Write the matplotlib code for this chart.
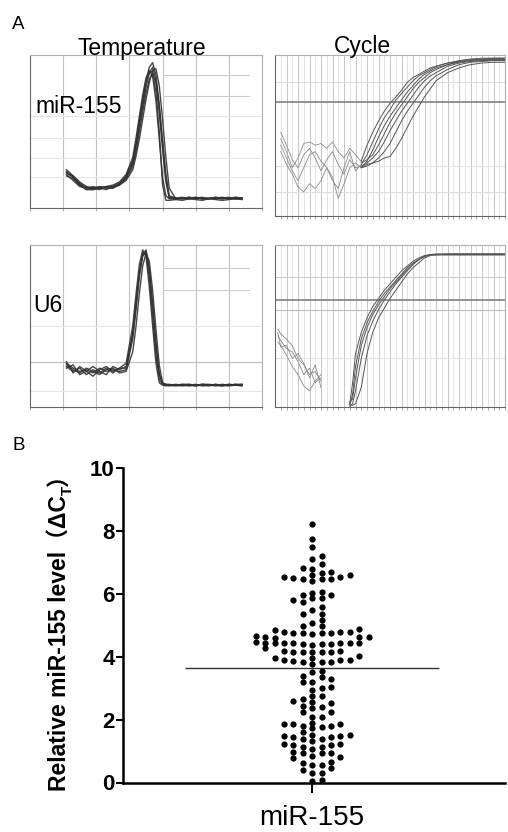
import numpy as np
import matplotlib
matplotlib.use("Agg")
from matplotlib import pyplot as plt
from matplotlib.transforms import IdentityTransform

W, H = 508, 832

plt.rcParams["font.family"] = ["Liberation Sans", "Noto Sans CJK SC", "DejaVu Sans"]

# ---- panel A: melting curves (normalised -dF/dT vs temperature) ----
MELT_T = [65.5, 66.5, 67.5, 68.5, 69.5, 70.5, 71.5, 72.5, 73.5, 74.5, 75.5,
          76.0, 76.5, 77.0, 77.5, 78.0, 78.5, 79.0, 79.5, 80.0, 80.5, 81.0,
          82, 83, 84, 85, 86, 87, 88, 89, 90, 91, 92]

MIR_MELT = [
    [0.23, 0.20, 0.15, 0.13, 0.13, 0.14, 0.13, 0.14, 0.16, 0.20, 0.29, 0.40, 0.53, 0.66, 0.79, 0.88, 0.92,
     0.84, 0.66, 0.42, 0.20, 0.07, 0.065, 0.07, 0.06, 0.065, 0.07, 0.06, 0.065, 0.07, 0.06, 0.065, 0.065],
    [0.25, 0.21, 0.16, 0.14, 0.12, 0.13, 0.14, 0.15, 0.17, 0.22, 0.33, 0.46, 0.60, 0.74, 0.85, 0.90, 0.86,
     0.70, 0.45, 0.20, 0.08, 0.06, 0.06, 0.065, 0.06, 0.07, 0.06, 0.065, 0.06, 0.065, 0.07, 0.06, 0.065],
    [0.21, 0.19, 0.15, 0.12, 0.13, 0.12, 0.14, 0.13, 0.15, 0.18, 0.25, 0.34, 0.45, 0.58, 0.71, 0.82, 0.90,
     0.91, 0.80, 0.58, 0.33, 0.13, 0.06, 0.065, 0.07, 0.06, 0.065, 0.06, 0.07, 0.065, 0.06, 0.07, 0.065],
    [0.22, 0.18, 0.14, 0.13, 0.14, 0.13, 0.12, 0.14, 0.15, 0.19, 0.27, 0.37, 0.50, 0.63, 0.75, 0.84, 0.88,
     0.82, 0.62, 0.38, 0.17, 0.065, 0.06, 0.06, 0.065, 0.07, 0.06, 0.06, 0.065, 0.06, 0.065, 0.06, 0.06],
    [0.24, 0.20, 0.16, 0.12, 0.12, 0.14, 0.13, 0.13, 0.16, 0.21, 0.31, 0.43, 0.57, 0.70, 0.82, 0.89, 0.89,
     0.76, 0.50, 0.15, 0.05, 0.05, 0.055, 0.05, 0.06, 0.055, 0.05, 0.06, 0.055, 0.05, 0.055, 0.06, 0.055],
    [0.23, 0.21, 0.17, 0.14, 0.13, 0.13, 0.14, 0.14, 0.16, 0.20, 0.30, 0.42, 0.56, 0.70, 0.83, 0.92, 0.95,
     0.87, 0.68, 0.44, 0.22, 0.08, 0.065, 0.06, 0.07, 0.065, 0.06, 0.065, 0.07, 0.06, 0.065, 0.07, 0.06],
]

U6_MELT = [
    [0.27, 0.24, 0.22, 0.23, 0.21, 0.24, 0.22, 0.23, 0.22, 0.23, 0.42, 0.60, 0.80, 0.93, 0.96, 0.84, 0.62,
     0.38, 0.20, 0.14, 0.135, 0.135, 0.14, 0.135, 0.13, 0.135, 0.14, 0.135, 0.13, 0.135, 0.14, 0.135, 0.14],
    [0.25, 0.22, 0.24, 0.20, 0.23, 0.21, 0.24, 0.21, 0.24, 0.27, 0.50, 0.70, 0.88, 0.97, 0.93, 0.74, 0.50,
     0.27, 0.15, 0.135, 0.13, 0.135, 0.13, 0.135, 0.14, 0.13, 0.135, 0.13, 0.14, 0.135, 0.13, 0.135, 0.13],
    [0.26, 0.23, 0.21, 0.24, 0.22, 0.20, 0.23, 0.24, 0.21, 0.22, 0.34, 0.50, 0.70, 0.87, 0.95, 0.90, 0.72,
     0.48, 0.26, 0.15, 0.14, 0.135, 0.135, 0.14, 0.135, 0.13, 0.14, 0.135, 0.135, 0.13, 0.14, 0.135, 0.135],
    [0.24, 0.26, 0.20, 0.22, 0.25, 0.22, 0.20, 0.25, 0.23, 0.25, 0.46, 0.65, 0.84, 0.95, 0.95, 0.80, 0.56,
     0.32, 0.17, 0.14, 0.135, 0.13, 0.135, 0.13, 0.135, 0.14, 0.13, 0.135, 0.14, 0.13, 0.135, 0.14, 0.135],
    [0.28, 0.21, 0.25, 0.22, 0.19, 0.23, 0.25, 0.22, 0.24, 0.24, 0.44, 0.63, 0.83, 0.94, 0.97, 0.86, 0.64,
     0.40, 0.21, 0.145, 0.14, 0.14, 0.135, 0.14, 0.14, 0.135, 0.14, 0.14, 0.135, 0.14, 0.135, 0.14, 0.14],
]

# ---- panel A: amplification curves (normalised fluorescence vs cycle) ----
AMP_C = [15, 16, 17, 18, 19, 20, 21, 22, 23, 24, 25, 26, 27, 28, 30, 32, 34, 36, 38, 40]
MIR_AMP = [
    [0.34, 0.44, 0.52, 0.59, 0.65, 0.70, 0.74, 0.78, 0.83, 0.86, 0.88, 0.90, 0.92, 0.93, 0.95, 0.965, 0.975, 0.98, 0.98, 0.98],
    [0.32, 0.38, 0.46, 0.54, 0.61, 0.66, 0.72, 0.76, 0.80, 0.84, 0.87, 0.89, 0.91, 0.93, 0.95, 0.96, 0.97, 0.975, 0.98, 0.98],
    [0.30, 0.34, 0.41, 0.49, 0.56, 0.62, 0.67, 0.72, 0.77, 0.81, 0.85, 0.88, 0.90, 0.92, 0.94, 0.96, 0.97, 0.97, 0.975, 0.975],
    [0.33, 0.35, 0.38, 0.44, 0.51, 0.58, 0.64, 0.69, 0.74, 0.79, 0.83, 0.86, 0.89, 0.91, 0.94, 0.955, 0.965, 0.97, 0.97, 0.97],
    [0.31, 0.33, 0.36, 0.40, 0.46, 0.53, 0.59, 0.65, 0.70, 0.75, 0.80, 0.84, 0.87, 0.89, 0.93, 0.95, 0.96, 0.965, 0.97, 0.97],
    [0.30, 0.32, 0.33, 0.36, 0.40, 0.45, 0.52, 0.59, 0.65, 0.70, 0.75, 0.80, 0.84, 0.87, 0.91, 0.94, 0.955, 0.96, 0.965, 0.965],
    [0.30, 0.31, 0.33, 0.34, 0.36, 0.37, 0.42, 0.48, 0.55, 0.62, 0.68, 0.74, 0.79, 0.84, 0.89, 0.92, 0.94, 0.95, 0.955, 0.955],
]
MIR_NOISE_C = [1, 2, 3, 4, 5, 6, 7, 8, 9, 10, 11, 12, 13, 14, 15]
MIR_NOISE = [
    [0.48, 0.40, 0.30, 0.36, 0.45, 0.46, 0.44, 0.45, 0.42, 0.46, 0.40, 0.36, 0.42, 0.38, 0.34],
    [0.44, 0.36, 0.28, 0.22, 0.30, 0.38, 0.40, 0.34, 0.30, 0.22, 0.17, 0.30, 0.40, 0.28, 0.32],
    [0.40, 0.32, 0.26, 0.18, 0.15, 0.20, 0.17, 0.22, 0.30, 0.24, 0.11, 0.20, 0.30, 0.33, 0.30],
    [0.52, 0.44, 0.35, 0.30, 0.38, 0.42, 0.36, 0.28, 0.35, 0.40, 0.32, 0.26, 0.35, 0.30, 0.31],
]
MIR_THRESHOLD = 0.71

U6_AMP_C = [13, 13.5, 14, 15, 16, 17, 18, 19, 20, 21, 22, 23, 24, 25, 26, 27, 28, 30, 35, 40]
U6_AMP = [
    [0.02, 0.15, 0.33, 0.46, 0.55, 0.62, 0.67, 0.72, 0.76, 0.80, 0.84, 0.87, 0.90, 0.92, 0.935, 0.94, 0.945, 0.945, 0.945, 0.945],
    [0.01, 0.08, 0.25, 0.42, 0.52, 0.59, 0.65, 0.70, 0.74, 0.78, 0.82, 0.86, 0.89, 0.91, 0.93, 0.94, 0.94, 0.94, 0.94, 0.94],
    [0.03, 0.05, 0.18, 0.38, 0.49, 0.57, 0.63, 0.68, 0.73, 0.77, 0.81, 0.85, 0.88, 0.91, 0.93, 0.94, 0.94, 0.945, 0.945, 0.945],
    [0.00, 0.02, 0.10, 0.30, 0.44, 0.53, 0.60, 0.66, 0.71, 0.76, 0.80, 0.84, 0.88, 0.91, 0.93, 0.94, 0.94, 0.94, 0.94, 0.94],
    [0.02, 0.01, 0.02, 0.12, 0.33, 0.46, 0.55, 0.61, 0.67, 0.72, 0.77, 0.82, 0.86, 0.89, 0.92, 0.935, 0.94, 0.94, 0.94, 0.94],
]
U6_NOISE_C = [0.5, 1, 2, 3, 4, 5, 6, 7, 8]
U6_NOISE = [
    [0.48, 0.45, 0.42, 0.38, 0.30, 0.26, 0.20, 0.22, 0.16],
    [0.44, 0.41, 0.36, 0.34, 0.28, 0.20, 0.24, 0.15, 0.18],
    [0.40, 0.38, 0.32, 0.25, 0.20, 0.13, 0.10, 0.16, 0.20],
    [0.46, 0.37, 0.38, 0.30, 0.33, 0.27, 0.18, 0.26, 0.12],
]
U6_THRESHOLD = 0.66

# ---- panel B: relative miR-155 level (delta CT), grouped in the dot rows
# of the scatter, top to bottom ----
DCT_ROWS = [
    [8.20], [7.75], [7.49], [7.10, 7.20], [6.94], [6.78, 6.80],
    [6.41, 6.46, 6.48, 6.48, 6.50, 6.53, 6.53, 6.59, 6.59, 6.66, 6.69],
    [5.85, 5.86, 5.95, 5.95, 6.03, 6.04],
    [5.74, 5.79], [5.48, 5.58], [5.34, 5.35], [5.07, 5.16],
    [4.73, 4.74, 4.74, 4.74, 4.74, 4.77, 4.77, 4.77, 4.86, 4.89, 4.97, 4.98],
    [4.60, 4.62, 4.62, 4.63, 4.65],
    [4.36, 4.40, 4.40, 4.40, 4.42, 4.42, 4.42, 4.42, 4.42, 4.42, 4.44, 4.46],
    [4.15, 4.15, 4.15, 4.15, 4.15, 4.18, 4.18, 4.26],
    [3.78, 3.84, 3.84, 3.84, 3.87, 3.89, 3.89, 3.89, 3.94, 3.97, 4.02],
    [3.50, 3.54], [3.36, 3.39], [3.20, 3.20, 3.29], [2.94, 3.01, 3.04],
    [2.76, 2.76],
    [2.37, 2.41, 2.44, 2.51, 2.55, 2.60, 2.64], [2.25, 2.25], [2.09, 2.09],
    [1.72, 1.75, 1.79, 1.79, 1.86, 1.86, 1.86, 1.90],
    [1.33, 1.37, 1.37, 1.43, 1.43, 1.48, 1.48, 1.51, 1.51, 1.61],
    [1.05, 1.14, 1.14, 1.19, 1.19, 1.22, 1.22],
    [0.84, 0.93, 0.93, 0.93, 0.98], [0.78, 0.80],
    [0.56, 0.56, 0.61, 0.66], [0.40, 0.45], [0.29, 0.31], [0.05, 0.08],
]
DCT = [v for row in DCT_ROWS for v in row]


def px_axes(fig, x0, y0, x1, y1):
    """Axes from a pixel box (top-left origin)"""
    return fig.add_axes([x0 / W, 1 - y1 / H, (x1 - x0) / W, (y1 - y0) / H])


def frame(ax):
    ax.set_yticks([])
    for side in ("left", "bottom"):
        ax.spines[side].set_color("#666666")
    for side in ("top", "right"):
        ax.spines[side].set_color("#b0b0b0")
    for sp in ax.spines.values():
        sp.set_linewidth(0.8)
    ax.tick_params(axis="x", length=2, width=0.6, color="#999999",
                   labelbottom=False)


def draw_melt(ax, curves, faint, partial):
    ax.set_xlim(60, 95)
    ax.set_ylim(0, 1)
    for t in range(65, 95, 5):
        ax.axvline(t, color="#c2c2c2", lw=0.8, zorder=1)
    for y in faint:
        ax.axhline(y, color="#e6e6e6", lw=0.8, zorder=1)
    for y in partial:
        ax.plot([80, 93], [y, y], color="#cccccc", lw=0.8, zorder=1)
    for c in curves:
        ax.plot(MELT_T, c, color="#333333", lw=1.0, alpha=0.9, zorder=3)
    ax.set_xticks(range(60, 96, 5))
    frame(ax)


def draw_amp(ax, xs, curves, nxs, noise, threshold, lines):
    ax.set_xlim(0, 40)
    ax.set_ylim(0, 1)
    for c in range(1, 40):
        ax.axvline(c, color="#bdbdbd" if c % 2 == 0 else "#e0e0e0",
                   lw=0.6, zorder=1)
    for y, col in lines:
        ax.axhline(y, color=col, lw=0.8, zorder=1)
    ax.axhline(threshold, color="#777777", lw=1.1, zorder=2)
    for n in noise:
        ax.plot(nxs, n, color="#8a8a8a", lw=0.6, zorder=3)
    for c in curves:
        ax.plot(xs, c, color="#555555", lw=0.7, zorder=3)
    ax.set_xticks(range(1, 41))
    frame(ax)


fig = plt.figure(figsize=(W / 100, H / 100), dpi=100)

ax_tl = px_axes(fig, 30, 55, 262, 208)
draw_melt(ax_tl, MIR_MELT, [0.2, 0.33, 0.46, 0.6], [0.87, 0.73])
ax_tr = px_axes(fig, 275, 55, 505, 216)
draw_amp(ax_tr, AMP_C, MIR_AMP, MIR_NOISE_C, MIR_NOISE, MIR_THRESHOLD,
         [(0.83, "#dddddd"), (0.31, "#e4e4e4"), (0.15, "#dddddd")])
ax_bl = px_axes(fig, 30, 245, 262, 407)
draw_melt(ax_bl, U6_MELT, [0.1, 0.5], [0.86, 0.72])
ax_bl.axhline(0.28, color="#bdbdbd", lw=0.8, zorder=1)
ax_br = px_axes(fig, 275, 245, 505, 407)
draw_amp(ax_br, U6_AMP_C, U6_AMP, U6_NOISE_C, U6_NOISE, U6_THRESHOLD,
         [(0.80, "#cccccc"), (0.60, "#bbbbbb"), (0.30, "#e4e4e4")])

fig.text(12 / W, 1 - 29 / H, "A", fontsize=13.5, va="baseline")
fig.text(142 / W, 1 - 55 / H, "Temperature", fontsize=16.5, ha="center",
         va="baseline")
fig.text(362 / W, 1 - 53 / H, "Cycle", fontsize=16.5, ha="center",
         va="baseline")
fig.text(35 / W, 1 - 113 / H, "miR-155", fontsize=16.5, va="baseline")
fig.text(33 / W, 1 - 312 / H, "U6", fontsize=16.5, va="baseline")

# ---- panel B ----
fig.text(12 / W, 1 - 450 / H, "B", fontsize=13.5, va="baseline")
ax = px_axes(fig, 123, 467.7, 505, 782.5)
ax.set_xlim(-1.0, 1.02)
ax.set_ylim(0, 10)

# column scatter: rows are laid out one after another, lowest value in the
# middle, each dot taking the nearest free column to the centre
bbox = ax.get_window_extent()
step = 9.4 * 2.02 / bbox.width
min_dy = 5.5 * 10 / bbox.height
order = [0]
for k in range(1, 20):
    order += [k, -k]
placed = []
xs, ys = [], []
for row in DCT_ROWS:
    for v in sorted(row):
        for k in order:
            if all(abs(v - y) >= min_dy - 1e-9 for kk, y in placed if kk == k):
                break
        placed.append((k, v))
        xs.append(k * step)
        ys.append(v)
ax.plot(xs, ys, "o", ms=4.5, color="black", mew=0, clip_on=False, zorder=3)
ax.hlines(np.mean(DCT), -0.67, 0.67, color="#333333", lw=1.0, zorder=2)

for side in ("top", "right"):
    ax.spines[side].set_visible(False)
for side in ("left", "bottom"):
    ax.spines[side].set_linewidth(1.8)
ax.set_yticks(range(0, 11, 2))
ax.set_yticklabels([str(v) for v in range(0, 11, 2)], fontsize=16,
                   fontweight="bold")
ax.tick_params(axis="y", length=5, width=1.5, pad=1)
ax.set_xticks([0])
ax.set_xticklabels(["miR-155"], fontsize=20)
ax.tick_params(axis="x", length=7, width=1.5, pad=9)

# vertical y label built from pieces so the subscript and the
# full-width brackets render together
renderer = fig.canvas.get_renderer()
parts = [("Relative miR-155 level（ΔC", 16.5, 0), ("T", 11, 5),
         ("）", 16.5, 0)]
texts = []
for s, size, dx in parts:
    t = fig.text(0, 0, s, rotation=90, rotation_mode="anchor", ha="left",
                 va="baseline", fontsize=size, fontweight="bold",
                 transform=IdentityTransform())
    texts.append((t, t.get_window_extent(renderer).height, dx))
total = sum(h for _, h, _ in texts)
y0 = (H - 627) - total / 2
for t, h, dx in texts:
    t.set_position((67 + dx, y0))
    y0 += h

fig.savefig("out.png", dpi=100)
